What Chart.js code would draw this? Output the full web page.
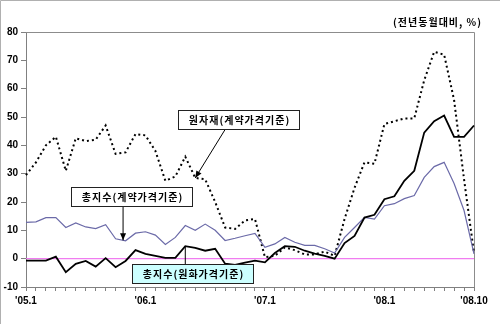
<!DOCTYPE html>
<html>
<head>
<meta charset="utf-8">
<script src="https://cdn.jsdelivr.net/npm/chart.js@4/dist/chart.umd.min.js"></script>
<style>
  html, body { margin: 0; padding: 0; background: #fff; }
  canvas { display: block; }
</style>
</head>
<body>
<canvas id="chart" width="500" height="324"></canvas>
<script>
// Months, Jan 2005 – Oct 2008
const months = [
  "'05.1","'05.2","'05.3","'05.4","'05.5","'05.6","'05.7","'05.8","'05.9","'05.10","'05.11","'05.12",
  "'06.1","'06.2","'06.3","'06.4","'06.5","'06.6","'06.7","'06.8","'06.9","'06.10","'06.11","'06.12",
  "'07.1","'07.2","'07.3","'07.4","'07.5","'07.6","'07.7","'07.8","'07.9","'07.10","'07.11","'07.12",
  "'08.1","'08.2","'08.3","'08.4","'08.5","'08.6","'08.7","'08.8","'08.9","'08.10"
];

// Month labels printed under the axis
const tickLabels = ["'05.1", "'06.1", "'07.1", "'08.1", "'08.10"];

// Year-on-year change, %
const rawMaterial = [
  29.5, 34, 40, 43, 31, 42.5, 41.5, 42, 47, 37, 37.5, 44,
  43.5, 38, 27.5, 29, 36, 28.5, 28, 20, 11, 10.5, 13.5, 14,
  0.5, 1, 4, 3, 1.5, 1.5, 2.5, 1, 14, 25, 34, 33.5,
  47.5, 48.5, 49.5, 49.5, 63, 73, 72, 56, 28, 2
];
const totalContract = [
  12.8, 13, 14.5, 14.5, 11, 12.6, 11.2, 10.6, 12, 7, 6.3, 9,
  9.5, 8.3, 5, 7.5, 11.7, 10, 12.2, 10, 6.4, 7.2, 8.1, 8.9,
  4, 5.2, 7.5, 5.8, 4.7, 4.7, 3.5, 2, 7.5, 11, 14.6, 14,
  18.7, 19.4, 21.2, 22.3, 28.7, 32.5, 34, 26.5, 17, 1.7
];
const totalWon = [
  -0.7, -0.7, -0.7, 0.7, -4.8, -1.8, -0.8, -2.8, 0.2, -3, -0.8, 3,
  1.7, 1, 0.3, 0.3, 4.4, 3.8, 2.8, 3.5, -1.8, -2.2, -1.4, -0.7,
  -1.3, 2, 4.4, 4.2, 2.8, 1.8, 1, 0, 5.5, 8, 14.5, 15.5,
  21, 22, 27.5, 31, 44.5, 48.5, 50.5, 43, 43, 47
];
const zeroLine = [
  0, 0, 0, 0, 0, 0, 0, 0, 0, 0, 0, 0,
  0, 0, 0, 0, 0, 0, 0, 0, 0, 0, 0, 0,
  0, 0, 0, 0, 0, 0, 0, 0, 0, 0, 0, 0,
  0, 0, 0, 0, 0, 0, 0, 0, 0, 0
];

const seriesNames = ['원자재(계약가격기준)', '총지수(계약가격기준)', '총지수(원화가격기준)'];
const unitNote = '(전년동월대비, %)';

const KR_FONT = "'Noto Sans CJK KR', 'Noto Sans', sans-serif";
const NUM_FONT = "'Liberation Sans', Arial, sans-serif";

// Callout boxes: centre given in (month index, value); leader drawn to a series point
const callouts = [
  { text: seriesNames[0], cx: 21.3, cy: 49.1, fill: '#ffffff',
    from: { x: 20.0, side: 'bottom' }, to: { data: rawMaterial, index: 17 }, arrow: true },
  { text: seriesNames[1], cx: 10.6, cy: 21.9, fill: '#ffffff',
    from: { x: 9.75, side: 'bottom' }, to: { data: totalContract, index: 9.75 }, arrow: true },
  { text: seriesNames[2], cx: 16.7, cy: -5.1, fill: '#ccffff',
    from: { x: 16, side: 'top' }, to: { data: totalWon, index: 16 }, arrow: false }
];

function valueAt(arr, idx) {
  const i0 = Math.floor(idx), i1 = Math.min(arr.length - 1, i0 + 1);
  const t = idx - i0;
  return arr[i0] * (1 - t) + arr[i1] * t;
}

const framePlugin = {
  id: 'frame',
  beforeDatasetsDraw(chart) {
    const { ctx, chartArea: a } = chart;
    ctx.save();
    ctx.strokeStyle = '#8c8c8c';
    ctx.lineWidth = 1;
    ctx.beginPath();
    ctx.moveTo(a.left, a.top + 0.5);
    ctx.lineTo(a.right + 0.5, a.top + 0.5);
    ctx.lineTo(a.right + 0.5, a.bottom);
    ctx.stroke();
    // outer frame
    ctx.strokeStyle = '#b0b0b0';
    ctx.beginPath();
    ctx.moveTo(0.5, chart.height);
    ctx.lineTo(0.5, 0.5);
    ctx.lineTo(chart.width, 0.5);
    ctx.stroke();
    ctx.restore();
  },
  afterDraw(chart) {
    const { ctx } = chart;
    ctx.save();
    ctx.fillStyle = '#000';
    ctx.font = 'bold 10px ' + KR_FONT;
    ctx.letterSpacing = '1px';
    ctx.textAlign = 'right';
    ctx.textBaseline = 'middle';
    ctx.fillText(unitNote, 482, 22);
    ctx.restore();
  }
};

const calloutPlugin = {
  id: 'callouts',
  afterDatasetsDraw(chart) {
    const { ctx } = chart;
    const xs = chart.scales.x, ys = chart.scales.y;
    ctx.save();
    ctx.font = 'bold 10px ' + KR_FONT;
    ctx.letterSpacing = '1px';
    callouts.forEach(c => {
      const tw = ctx.measureText(c.text).width;
      const w = Math.round(tw + 20), h = 19;
      const cx = xs.getPixelForValue(c.cx), cy = ys.getPixelForValue(c.cy);
      const x0 = Math.round(cx - w / 2) + 0.5, y0 = Math.round(cy - h / 2) + 0.5;

      // leader line
      const sx = xs.getPixelForValue(c.from.x);
      const sy = c.from.side === 'bottom' ? y0 + h : y0;
      const tx = xs.getPixelForValue(c.to.index);
      const ty = ys.getPixelForValue(valueAt(c.to.data, c.to.index));
      ctx.strokeStyle = '#000';
      ctx.lineWidth = 1;
      ctx.beginPath();
      ctx.moveTo(sx, sy);
      ctx.lineTo(tx, ty);
      ctx.stroke();
      if (c.arrow) {
        const ang = Math.atan2(ty - sy, tx - sx);
        const L = 7, W = 3;
        ctx.fillStyle = '#000';
        ctx.beginPath();
        ctx.moveTo(tx, ty);
        ctx.lineTo(tx - L * Math.cos(ang) + W * Math.sin(ang), ty - L * Math.sin(ang) - W * Math.cos(ang));
        ctx.lineTo(tx - L * Math.cos(ang) - W * Math.sin(ang), ty - L * Math.sin(ang) + W * Math.cos(ang));
        ctx.closePath();
        ctx.fill();
      }

      // box
      ctx.fillStyle = c.fill;
      ctx.fillRect(x0, y0, w, h);
      ctx.strokeStyle = '#222';
      ctx.strokeRect(x0, y0, w, h);
      ctx.fillStyle = '#000';
      ctx.textAlign = 'center';
      ctx.textBaseline = 'middle';
      ctx.fillText(c.text, x0 + w / 2 + 0.5, y0 + h / 2 + 0.5);
    });
    ctx.restore();
  }
};

new Chart(document.getElementById('chart'), {
  type: 'line',
  data: {
    labels: months,
    datasets: [
      { label: seriesNames[0], data: rawMaterial, borderColor: '#000', borderWidth: 2,
        borderDash: [2, 3], borderCapStyle: 'butt', order: 3 },
      { label: seriesNames[2], data: totalWon, borderColor: '#000', borderWidth: 1.8, order: 1 },
      { label: seriesNames[1], data: totalContract, borderColor: '#6b6aa8', borderWidth: 1.2, order: 2 },
      { label: '0', data: zeroLine, borderColor: '#f07cf0', borderWidth: 1.2, order: 4 }
    ]
  },
  options: {
    responsive: false,
    animation: false,
    devicePixelRatio: 1,
    layout: { padding: { top: 32, right: 26, left: 0, bottom: 0 } },
    elements: { point: { radius: 0, hoverRadius: 0 }, line: { tension: 0, fill: false } },
    plugins: { legend: { display: false }, tooltip: { enabled: false } },
    scales: {
      x: {
        type: 'category',
        offset: false,
        grid: { display: true, drawOnChartArea: false, drawTicks: true, tickLength: 4, color: '#808080' },
        border: { display: true, color: '#808080', width: 1 },
        ticks: {
          autoSkip: false, maxRotation: 0, minRotation: 0, padding: 4, color: '#000',
          font: { family: NUM_FONT, size: 10, weight: 'bold' },
          callback: (v, i) => tickLabels.includes(months[i]) ? months[i] : ''
        },
        afterFit: s => { s.height = 37; }
      },
      y: {
        min: -10, max: 80,
        grid: { display: true, drawOnChartArea: false, drawTicks: true, tickLength: 5, color: '#808080' },
        border: { display: true, color: '#808080', width: 1 },
        ticks: { stepSize: 10, padding: 3, color: '#000',
                 font: { family: NUM_FONT, size: 10, weight: 'bold' } },
        afterFit: s => { s.width = 26; }
      }
    }
  },
  plugins: [framePlugin, calloutPlugin]
});
</script>
</body>
</html>
